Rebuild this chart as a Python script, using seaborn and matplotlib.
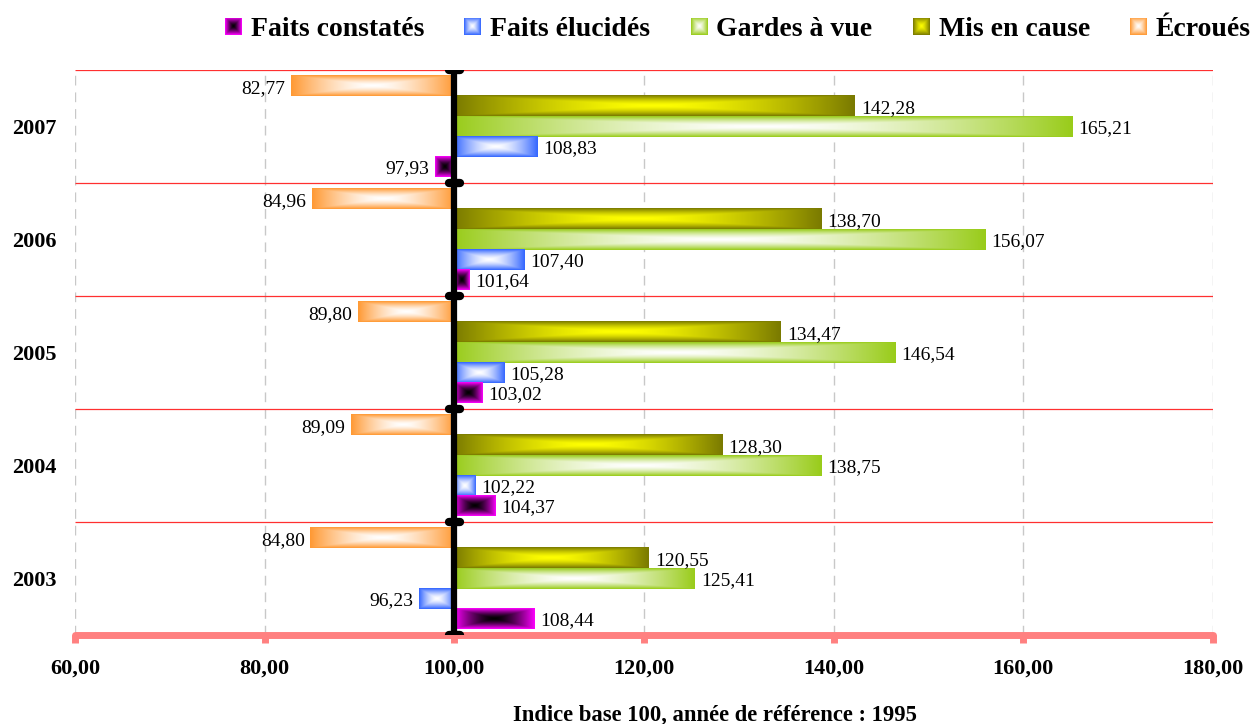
import numpy as np
import pandas as pd
import matplotlib
matplotlib.use("Agg")
import matplotlib.pyplot as plt
import seaborn as sns
from matplotlib.patches import Patch
from matplotlib.colors import to_rgb

# ---------------- data ----------------
years = ["2003", "2004", "2005", "2006", "2007"]
series = ["Faits constatés", "Faits élucidés", "Gardes à vue", "Mis en cause", "Écroués"]
faits_constates = [108.44, 104.37, 103.02, 101.64, 97.93]
faits_elucides = [96.23, 102.22, 105.28, 107.40, 108.83]
gardes_a_vue = [125.41, 138.75, 146.54, 156.07, 165.21]
mis_en_cause = [120.55, 128.30, 134.47, 138.70, 142.28]
ecroues = [84.80, 89.09, 89.80, 84.96, 82.77]
base = 100
x_ticks = [60, 80, 100, 120, 140, 160, 180]
x_tick_labels = ["60,00", "80,00", "100,00", "120,00", "140,00", "160,00", "180,00"]
x_title = "Indice base 100, année de référence : 1995"

# ---------------- styles ----------------
edge_colors = {
    "Faits constatés": "#FF00FF",
    "Faits élucidés": "#3366FF",
    "Gardes à vue": "#99CC1A",
    "Mis en cause": "#7A7A00",
    "Écroués": "#FF9933",
}
center_colors = {
    "Faits constatés": "#000000",
    "Faits élucidés": "#FFFFFF",
    "Gardes à vue": "#FFFFFF",
    "Mis en cause": "#FFFF00",
    "Écroués": "#FFFFFF",
}

sns.set_theme(style="white")
plt.rcParams["font.family"] = ["Liberation Serif", "DejaVu Serif"]
plt.rcParams.update({"text.color": "black", "axes.labelcolor": "black",
                     "xtick.color": "black", "ytick.color": "black"})

rows = []
for s, vals in zip(series, [faits_constates, faits_elucides, gardes_a_vue, mis_en_cause, ecroues]):
    for y, v in zip(years, vals):
        rows.append({"Année": y, "Série": s, "Indice": v, "Écart": v - base})
df = pd.DataFrame(rows)

W, H = 1251, 724
fig = plt.figure(figsize=(W / 100, H / 100), dpi=100)
ax = fig.add_axes([75 / W, 1 - 635 / H, 1138 / W, 565 / H])

year_order = years[::-1]
hue_order = series[::-1]
sns.barplot(data=df, y="Année", x="Écart", hue="Série", order=year_order,
            hue_order=hue_order, orient="h", width=0.885, left=base,
            palette=edge_colors, saturation=1, errorbar=None, legend=False,
            linewidth=0, ax=ax)

ax.set_xlim(x_ticks[0], x_ticks[-1])
ax.set_ylim(len(years) - 0.5, -0.5)


def rect_gradient(center, edge, nx=400, ny=40, power=1.5):
    c = np.array(to_rgb(center))
    e = np.array(to_rgb(edge))
    u = np.abs(np.linspace(-1, 1, nx))
    v = np.abs(np.linspace(-1, 1, ny))
    t = np.maximum(u[None, :], v[:, None]) ** power
    return c + (e - c) * t[..., None]


color_to_series = {tuple(np.round(to_rgb(c), 3)): s for s, c in edge_colors.items()}

for container in ax.containers:
    labels = [f"{base + b.get_width():.2f}".replace(".", ",") for b in container]
    anns = ax.bar_label(container, labels=labels, padding=4, fontsize=14, zorder=7,
                        color="black")
    for a in anns:
        a.set_va("center_baseline")
    for bar in container:
        s = color_to_series[tuple(np.round(bar.get_facecolor()[:3], 3))]
        x0, w = bar.get_x(), bar.get_width()
        y0, h = bar.get_y(), bar.get_height()
        xs = sorted([x0, x0 + w])
        ys = sorted([y0, y0 + h])
        ax.imshow(rect_gradient(center_colors[s], edge_colors[s]),
                  extent=(xs[0], xs[1], ys[1], ys[0]), aspect="auto",
                  interpolation="bilinear", zorder=2)
        bar.set_facecolor("none")

ax.set_xlim(x_ticks[0], x_ticks[-1])
ax.set_ylim(len(years) - 0.5, -0.5)

# group separators
bounds = np.arange(-0.5, len(years) + 0.5, 1.0)
ax.hlines(bounds[:-1], x_ticks[0], x_ticks[-1], colors="#FF3030", lw=0.9, zorder=1)

# base-100 vertical axis with caps
ax.plot([base, base], [bounds[0], bounds[-1]], color="black", lw=4.5,
        solid_capstyle="butt", zorder=6)
caps = ax.hlines(bounds, base - 0.55, base + 0.55, colors="black", lw=6, zorder=6)
caps.set_capstyle("round")

# grid
ax.xaxis.grid(True, color="#C8C8C8", linestyle=(0, (7, 5)), lw=1)
ax.yaxis.grid(False)
ax.set_axisbelow(True)

for side in ["top", "right", "left"]:
    ax.spines[side].set_visible(False)
ax.spines["bottom"].set_color("#FF8080")
ax.spines["bottom"].set_linewidth(5)
ax.spines["bottom"].set_capstyle("round")
ax.spines["bottom"].set_zorder(5)

ax.set_xticks(x_ticks, labels=x_tick_labels, fontweight="bold", fontsize=16)
ax.tick_params(axis="x", bottom=True, color="#FF8080", length=6, width=5,
               direction="out", pad=11, labelcolor="black")
ax.set_yticks(range(len(year_order)), labels=year_order, fontweight="bold", fontsize=16)
ax.tick_params(axis="y", left=False, length=0, pad=13, labelcolor="black")
ax.set_ylabel("")
ax.set_xlabel(x_title, fontweight="bold", fontsize=16.3, color="black")
ax.xaxis.set_label_coords(640 / 1138, -0.143)
ax.xaxis.label.set_va("center")

# legend
handles = [Patch(facecolor=edge_colors[s], edgecolor="none", label=s) for s in series]
leg = fig.legend(handles=handles, loc="center", bbox_to_anchor=(738 / W, 1 - 30 / H),
                 ncol=5, frameon=False,
                 prop={"family": "Liberation Serif", "weight": "bold", "size": 20},
                 handlelength=0.58, handleheight=0.58, handletextpad=0.35,
                 columnspacing=1.45, borderaxespad=0, borderpad=0)
for t in leg.get_texts():
    t.set_color("black")

fig.canvas.draw()
renderer = fig.canvas.get_renderer()
for h, s in zip(leg.legend_handles, series):
    bb = h.get_window_extent(renderer)
    lax = fig.add_axes([bb.x0 / W, bb.y0 / H, bb.width / W, bb.height / H])
    lax.set_zorder(20)
    lax.imshow(rect_gradient(center_colors[s], edge_colors[s], nx=40, ny=40, power=1.3),
               aspect="auto", interpolation="bilinear")
    lax.axis("off")

fig.savefig("out.png", dpi=100)
